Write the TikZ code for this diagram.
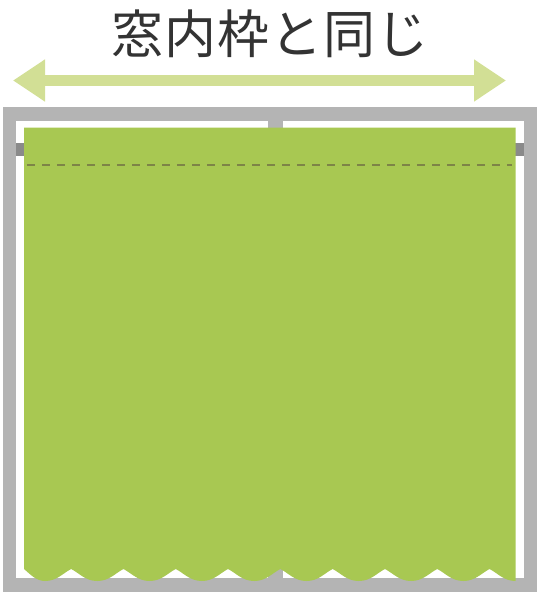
\documentclass[tikz,border=0pt]{standalone}
\usepackage{fontspec}
\newfontfamily\jpfont{Noto Sans CJK JP}
\usetikzlibrary{arrows.meta}
\definecolor{framegray}{HTML}{B4B4B4}
\definecolor{rodgray}{HTML}{8A8A8A}
\definecolor{curtaingreen}{HTML}{A8C852}
\definecolor{arrowgreen}{HTML}{D2DF95}
\definecolor{textgray}{HTML}{333333}
\definecolor{dashcol}{HTML}{7D8447}
\tikzset{
  frame/.style={fill=framegray},
  pane/.style={fill=white},
  rod/.style={fill=rodgray},
  curtain/.style={fill=curtaingreen},
  hemline/.style={draw=dashcol, line width=1.6pt, dash pattern=on 8pt off 7pt},
  widtharrow/.style={draw=arrowgreen, line width=11pt,
    {Triangle[width=40pt,length=32pt]}-{Triangle[width=40pt,length=32pt]}},
  title/.style={font=\jpfont\fontsize{52}{56}\selectfont\addfontfeature{LetterSpace=2}, text=textgray, inner sep=0pt}
}
\begin{document}
\begin{tikzpicture}[x=1pt,y=-1pt]
\useasboundingbox (0,0) rectangle (540,600);
% title
\node[title] (t) at (270,34) {窓内枠と同じ};
% width arrow
\coordinate (aL) at (13,80.5);
\coordinate (aR) at (506,80.5);
\draw[widtharrow] (aL) -- (aR);
% window frame
\fill[frame] (3,107) rectangle (537,592);
\fill[pane] (16,120.5) rectangle (524,578);
\fill[frame] (268,120) rectangle (283,579);
% curtain rod
\fill[rod] (16,143) rectangle (524,156);
% curtain
\fill[curtain] (24,127.5) -- (24,569)
  .. controls (30,574) and (36,581) .. (45,581)
  \foreach \k in {1,...,9} {
    .. controls ({45+52.3*(\k-1)+12},581) and ({45+52.3*\k-26.15-8},573) .. ({45+52.3*\k-26.15},569)
    .. controls ({45+52.3*\k-26.15+8},573) and ({45+52.3*\k-12},581) .. ({45+52.3*\k},581)
  }
  -- (515.7,127.5) -- cycle;
% dashed hem line
\coordinate (d1) at (27,165);
\coordinate (d2) at (512,165);
\draw[hemline] (d1) -- (d2);
\end{tikzpicture}
\end{document}
